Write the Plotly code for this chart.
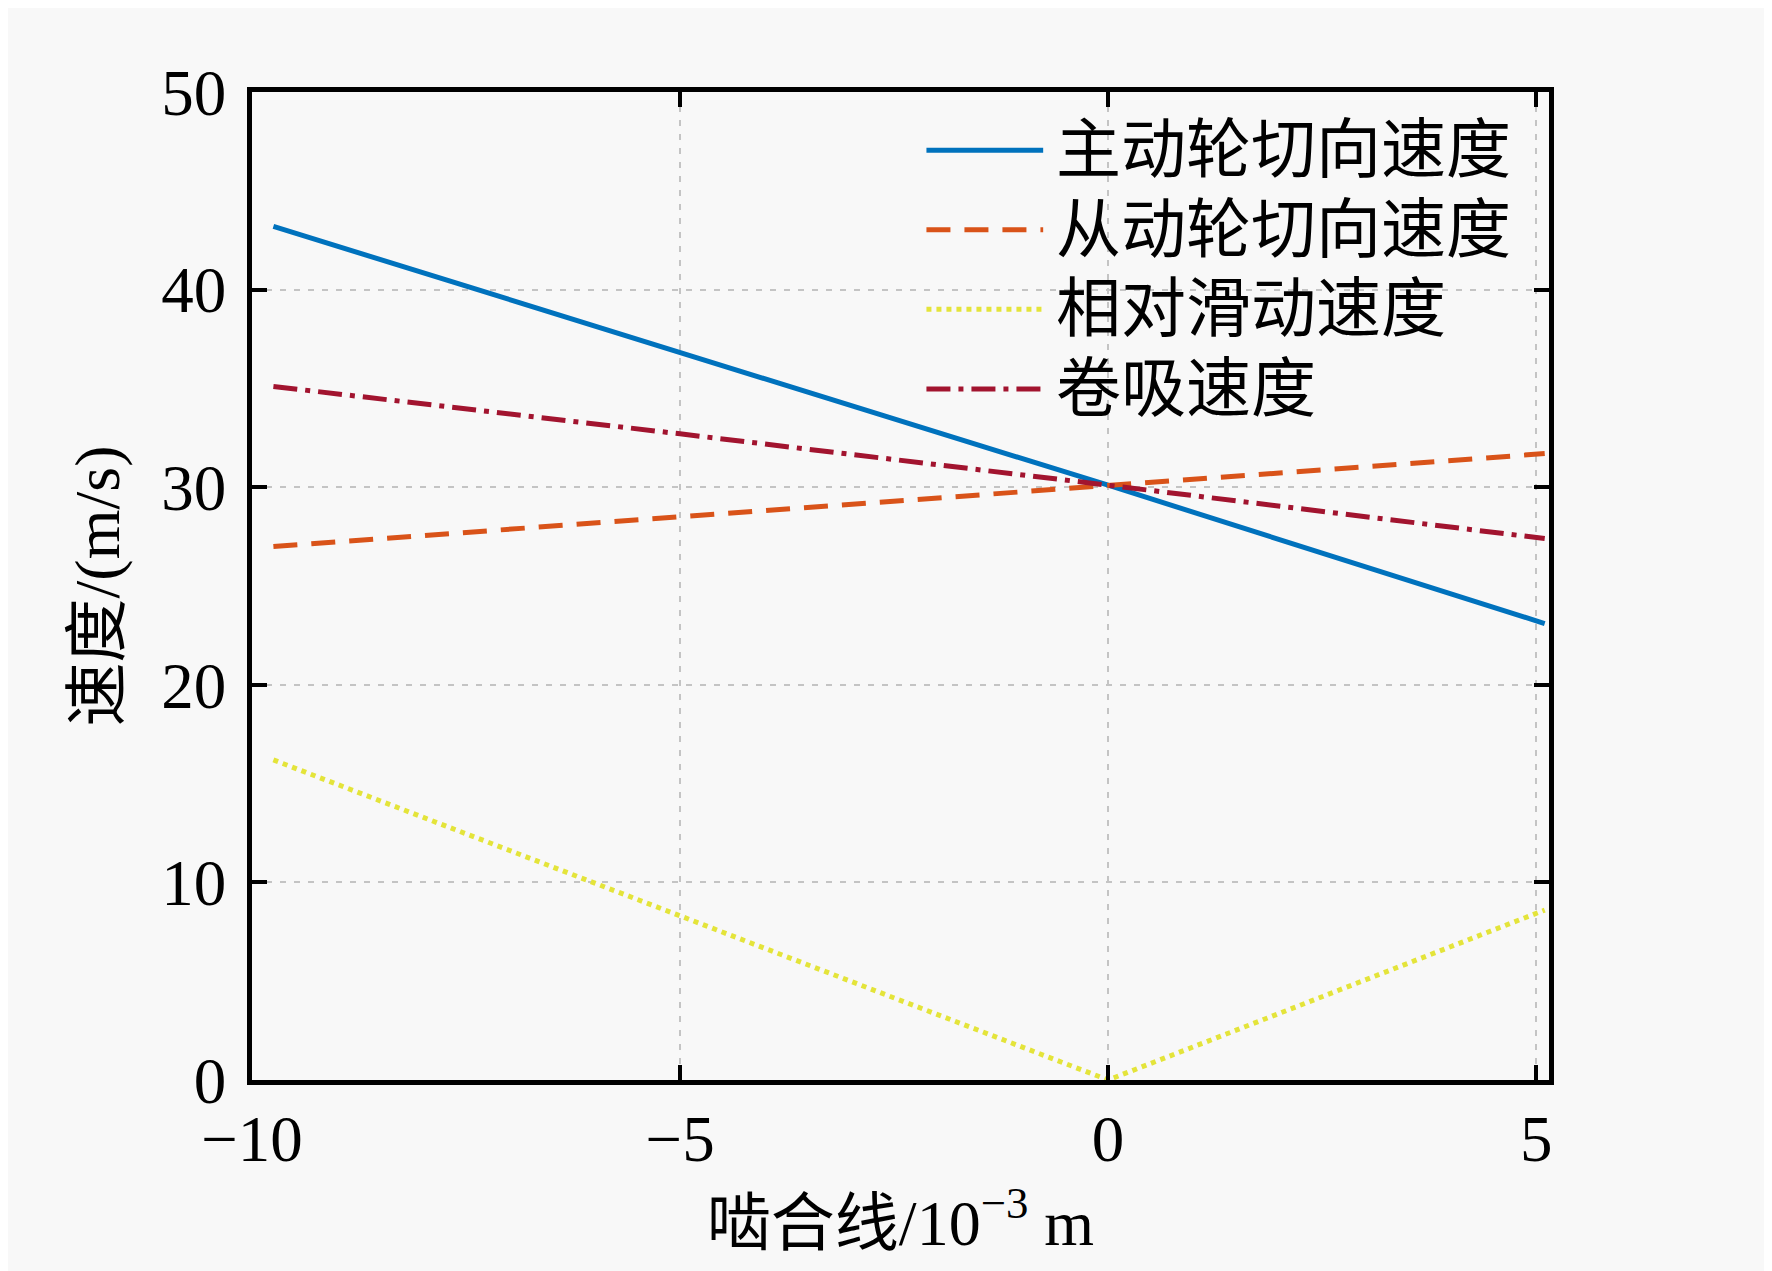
import plotly.graph_objects as go

# meshing line position (10^-3 m) and speeds (m/s)
x_pos = [-9.75, -5.0, 0.0, 5.1]
drive_speed = [43.2, 36.8, 30.1, 23.1]
driven_speed = [27.0, 28.5, 30.1, 31.7]
x_slide = [-9.75, -5.0, 0.0, 5.1]
slide_speed = [16.2, 8.3, 0.0, 8.6]
entrain_speed = [35.1, 32.7, 30.1, 27.4]

names = ["主动轮切向速度", "从动轮切向速度", "相对滑动速度", "卷吸速度"]
colors = ["#0072BD", "#D95319", "#E4E43A", "#A2142F"]
dashes = ["solid", "24px,14px", "5px,5px", "24px,8px,5px,8px"]

xticks = [-10, -5, 0, 5]
xtick_text = ["\u221210", "\u22125", "0", "5"]
yticks = [0, 10, 20, 30, 40, 50]

serif = "Liberation Serif, Times New Roman, Noto Sans CJK SC"

fig = go.Figure()
series = [(x_pos, drive_speed), (x_pos, driven_speed), (x_slide, slide_speed), (x_pos, entrain_speed)]
for (xs, ys), nm, c, d in zip(series, names, colors, dashes):
    fig.add_trace(go.Scatter(x=xs, y=ys, name=nm, mode="lines",
                             line=dict(color=c, width=5, dash=d), showlegend=False))

# legend drawn by hand so the key lines are long like the original
for i, (nm, c, d) in enumerate(zip(names, colors, dashes)):
    yy = 0.941 - i * 0.0805
    fig.add_shape(type="line", xref="paper", yref="paper", x0=0.52, x1=0.61, y0=yy, y1=yy,
                  line=dict(color=c, width=5, dash=d))
    fig.add_annotation(xref="paper", yref="paper", x=0.618, y=yy, text=nm, showarrow=False,
                       xanchor="left", yanchor="middle",
                       font=dict(family=serif, size=65, color="black"))

axis_common = dict(showline=True, linecolor="black", linewidth=4.5, mirror="ticks",
                   ticks="inside", ticklen=15, tickwidth=4, tickcolor="black",
                   showgrid=True, gridcolor="#c4c4c4", griddash="6px,8px", gridwidth=1.5,
                   zeroline=False, tickfont=dict(family=serif, size=65, color="black"))

fig.update_xaxes(range=[-10, 5.15], tickvals=xticks, ticktext=xtick_text,
                 title=dict(text="啮合线/10<sup>\u22123</sup> m", standoff=28,
                            font=dict(family=serif, size=64, color="black")),
                 ticklabelstandoff=-2, **axis_common)
fig.update_yaxes(range=[0, 50], tickvals=yticks,
                 title=dict(text="速度/(m/s)", standoff=22,
                            font=dict(family=serif, size=64, color="black")),
                 ticklabelstandoff=8, **axis_common)

fig.update_layout(width=1772, height=1271,
                  margin=dict(l=244, r=231, t=84, b=199),
                  paper_bgcolor="#F8F8F8", plot_bgcolor="#F8F8F8",
                  showlegend=False)

fig.write_html("out.html")
